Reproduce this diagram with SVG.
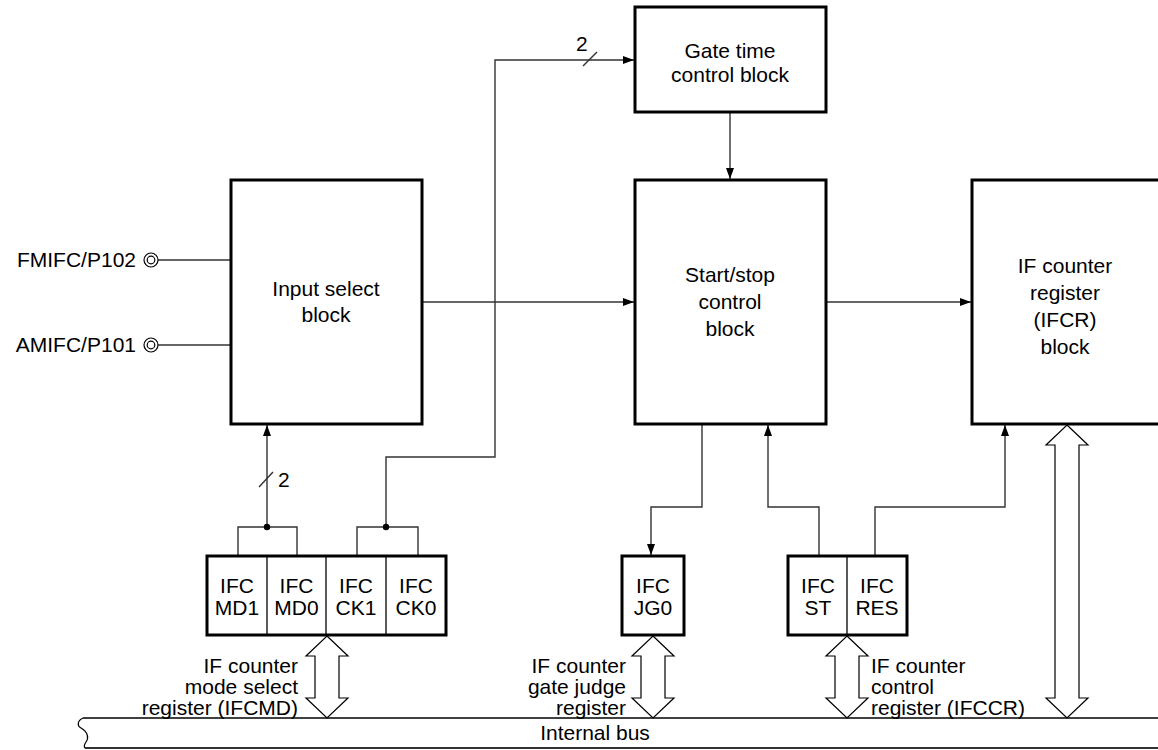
<svg xmlns="http://www.w3.org/2000/svg" width="1158" height="750" viewBox="0 0 1158 750">
<defs>
<style>
.box{fill:#fff;stroke:#000;stroke-width:3}
.cell{fill:none;stroke:#000;stroke-width:1.3}
.wire{fill:none;stroke:#333;stroke-width:1.4}
.dbl{fill:#fff;stroke:#000;stroke-width:1.2;stroke-linejoin:miter}
.t{font-family:"Liberation Sans",Arial,sans-serif;font-size:21px;fill:#000}
.c{text-anchor:middle}
.r{text-anchor:end}
</style>
<marker id="ah" markerWidth="11" markerHeight="8" refX="11" refY="4" orient="auto" markerUnits="userSpaceOnUse">
<path d="M0,0 L11,4 L0,8 Z" fill="#000"/>
</marker>
</defs>
<rect width="1158" height="750" fill="#fff"/>

<g id="connectors">
<line class="wire" x1="158" y1="260" x2="231" y2="260"/>
<line class="wire" x1="158" y1="345" x2="231" y2="345"/>
<line class="wire" x1="422" y1="302" x2="634" y2="302" marker-end="url(#ah)"/>
<line class="wire" x1="826" y1="302" x2="971" y2="302" marker-end="url(#ah)"/>
<line class="wire" x1="730" y1="112" x2="730" y2="179" marker-end="url(#ah)"/>
<polyline class="wire" points="238,556 238,527 297,527 297,556"/>
<line class="wire" x1="267" y1="527" x2="267" y2="425" marker-end="url(#ah)"/>
<line class="wire" x1="259" y1="487" x2="273" y2="472"/>
<circle cx="267" cy="527" r="3.2" fill="#000"/>
<polyline class="wire" points="357,556 357,527 418,527 418,556"/>
<polyline class="wire" points="386,527 386,457 495,457 495,60 634,60" marker-end="url(#ah)"/>
<line class="wire" x1="583" y1="66" x2="597" y2="52"/>
<circle cx="386" cy="527" r="3.2" fill="#000"/>
<polyline class="wire" points="702,424 702,507 651,507 651,555" marker-end="url(#ah)"/>
<polyline class="wire" points="819,556 819,507 768,507 768,425" marker-end="url(#ah)"/>
<polyline class="wire" points="875,556 875,507 1005,507 1005,425" marker-end="url(#ah)"/>
<path class="dbl" d="M327,636 L348,656 L339,656 L339,698 L348,698 L327,718 L306,698 L315,698 L315,656 L306,656 Z"/>
<path class="dbl" d="M653,636 L674,656 L665,656 L665,698 L674,698 L653,718 L632,698 L641,698 L641,656 L632,656 Z"/>
<path class="dbl" d="M847,636 L868,656 L859,656 L859,698 L868,698 L847,718 L826,698 L835,698 L835,656 L826,656 Z"/>
<path class="dbl" d="M1067,425 L1088,445 L1079,445 L1079,698 L1088,698 L1067,718 L1046,698 L1055,698 L1055,445 L1046,445 Z"/>
</g>

<g id="pin-fmifc">
<circle cx="151" cy="260" r="7" fill="#fff" stroke="#000" stroke-width="1.2"/>
<circle cx="151" cy="260" r="3.8" fill="#fff" stroke="#000" stroke-width="1.2"/>
<text class="t r" x="136" y="267">FMIFC/P102</text>
</g>
<g id="pin-amifc">
<circle cx="151" cy="345" r="7" fill="#fff" stroke="#000" stroke-width="1.2"/>
<circle cx="151" cy="345" r="3.8" fill="#fff" stroke="#000" stroke-width="1.2"/>
<text class="t r" x="136" y="352">AMIFC/P101</text>
</g>

<g id="input-select">
<rect class="box" x="231" y="180" width="191" height="244"/>
<text class="t c" x="326" y="296">Input select</text>
<text class="t c" x="326" y="322">block</text>
</g>

<g id="gate-time">
<rect class="box" x="635" y="7" width="191" height="105"/>
<text class="t c" x="730" y="58">Gate time</text>
<text class="t c" x="730" y="82">control block</text>
</g>

<g id="start-stop">
<rect class="box" x="635" y="180" width="191" height="244"/>
<text class="t c" x="730" y="282">Start/stop</text>
<text class="t c" x="730" y="309">control</text>
<text class="t c" x="730" y="336">block</text>
</g>

<g id="ifcr">
<rect class="box" x="972" y="180" width="200" height="244"/>
<text class="t c" x="1065" y="273">IF counter</text>
<text class="t c" x="1065" y="300">register</text>
<text class="t c" x="1065" y="327">(IFCR)</text>
<text class="t c" x="1065" y="354">block</text>
</g>

<g id="ifcmd">
<rect class="box" x="207" y="556" width="239" height="79"/>
<line class="cell" x1="267" y1="556" x2="267" y2="635"/>
<line class="cell" x1="326" y1="556" x2="326" y2="635"/>
<line class="cell" x1="386" y1="556" x2="386" y2="635"/>
<text class="t c" x="237" y="593">IFC</text>
<text class="t c" x="237" y="615">MD1</text>
<text class="t c" x="296.5" y="593">IFC</text>
<text class="t c" x="296.5" y="615">MD0</text>
<text class="t c" x="356" y="593">IFC</text>
<text class="t c" x="356" y="615">CK1</text>
<text class="t c" x="416" y="593">IFC</text>
<text class="t c" x="416" y="615">CK0</text>
<text class="t r" x="298" y="673">IF counter</text>
<text class="t r" x="298" y="694">mode select</text>
<text class="t r" x="298" y="715">register (IFCMD)</text>
</g>

<g id="jg0">
<rect class="box" x="622" y="556" width="62" height="79"/>
<text class="t c" x="653" y="593">IFC</text>
<text class="t c" x="653" y="615">JG0</text>
<text class="t r" x="626" y="673">IF counter</text>
<text class="t r" x="626" y="694">gate judge</text>
<text class="t r" x="626" y="715">register</text>
</g>

<g id="ifccr">
<rect class="box" x="788" y="556" width="119" height="79"/>
<line class="cell" x1="847" y1="556" x2="847" y2="635"/>
<text class="t c" x="818" y="593">IFC</text>
<text class="t c" x="818" y="615">ST</text>
<text class="t c" x="877" y="593">IFC</text>
<text class="t c" x="877" y="615">RES</text>
<text class="t" x="871" y="673">IF counter</text>
<text class="t" x="871" y="694">control</text>
<text class="t" x="871" y="715">register (IFCCR)</text>
</g>

<g id="labels">
<text class="t" x="278" y="487">2</text>
<text class="t" x="576" y="51">2</text>
</g>

<g id="internal-bus">
<line x1="83" y1="718" x2="1158" y2="718" stroke="#000" stroke-width="1.4"/>
<line x1="85" y1="748" x2="1158" y2="748" stroke="#333" stroke-width="2"/>
<path d="M83,718 C77,721 77,726 81,728 C88,732 89,738 86,742 C84,745 84,747 85,748" fill="none" stroke="#000" stroke-width="1.2"/>
<text class="t c" x="595" y="740">Internal bus</text>
</g>
</svg>
